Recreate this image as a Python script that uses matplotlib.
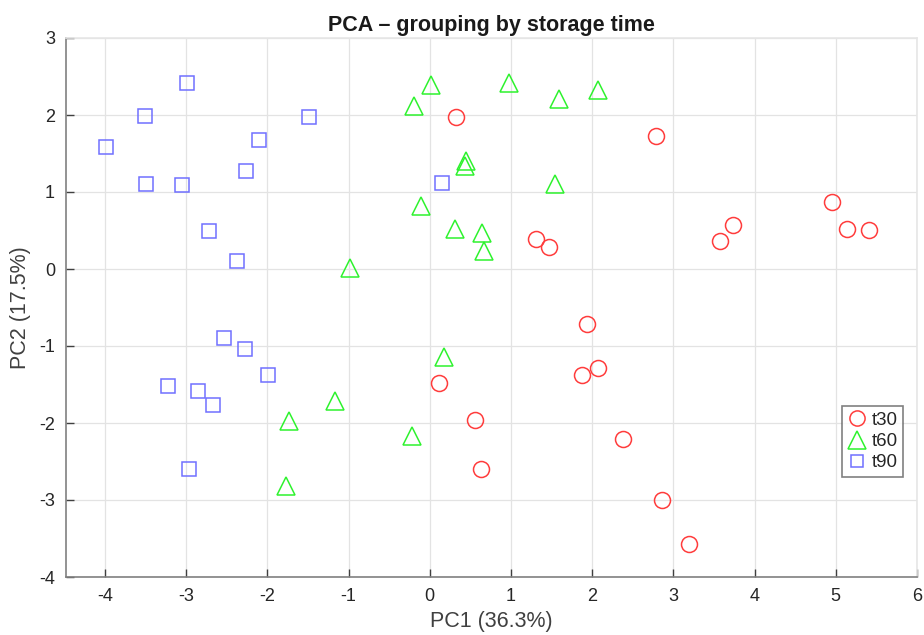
import matplotlib
matplotlib.use("Agg")
import matplotlib.pyplot as plt

plt.rcParams['font.family'] = ['Liberation Sans', 'DejaVu Sans']
plt.rcParams['axes.unicode_minus'] = False

# Data
t30_x = [0.32, 2.78, 4.95, 5.14, 5.41, 3.74, 3.58, 1.31, 1.47, 1.93, 1.88, 2.07,
         0.11, 0.56, 0.63, 2.38, 2.86, 3.19]
t30_y = [1.97, 1.73, 0.87, 0.52, 0.51, 0.57, 0.37, 0.39, 0.29, -0.71, -1.38, -1.29,
         -1.48, -1.96, -2.60, -2.21, -3.00, -3.57]

t60_x = [0.01, -0.20, 0.98, 1.59, 2.07, 0.44, 0.43, 1.54, -0.11, 0.31, 0.64, 0.67,
         -0.98, 0.17, -1.17, -1.73, -0.22, -1.77]
t60_y = [2.39, 2.12, 2.41, 2.21, 2.32, 1.40, 1.34, 1.10, 0.82, 0.52, 0.47, 0.23,
         0.01, -1.14, -1.71, -1.97, -2.17, -2.82]

t90_x = [-2.99, -3.51, -1.49, -3.99, -2.10, -3.49, -3.05, -2.26, -2.72, -2.38, 0.15,
         -2.54, -2.27, -1.99, -3.22, -2.85, -2.67, -2.96]
t90_y = [2.42, 1.99, 1.97, 1.59, 1.68, 1.10, 1.09, 1.27, 0.49, 0.10, 1.12,
         -0.90, -1.04, -1.38, -1.52, -1.58, -1.77, -2.60]

groups = ['t30', 't60', 't90']
title = 'PCA – grouping by storage time'
xlabel = 'PC1 (36.3%)'
ylabel = 'PC2 (17.5%)'
xticks = [-4, -3, -2, -1, 0, 1, 2, 3, 4, 5, 6]
yticks = [-4, -3, -2, -1, 0, 1, 2, 3]

fig = plt.figure(figsize=(9.24, 6.35), dpi=100)
ax = fig.add_axes([66/924, 1 - 577/635, (917-66)/924, (577-38)/635])

c_red = '#ff3c3c'
c_green = '#2ef22e'
c_blue = '#7070ff'

ax.plot(t30_x, t30_y, linestyle='none', marker='o', markersize=11.5, mfc='none',
        mec=c_red, mew=1.1, label=groups[0])
ax.plot(t60_x, t60_y, linestyle='none', marker='^', markersize=13, mfc='none',
        mec=c_green, mew=1.1, label=groups[1])
ax.plot(t90_x, t90_y, linestyle='none', marker='s', markersize=9.5, mfc='none',
        mec=c_blue, mew=1.1, label=groups[2])

ax.set_xlim(-4.48, 6.0)
ax.set_ylim(-4, 3)
ax.set_xticks(xticks)
ax.set_yticks(yticks)
ax.grid(True, color='#e3e3e3', linewidth=0.9)
ax.set_axisbelow(True)

for s in ['left', 'bottom']:
    ax.spines[s].set_color('#808080')
    ax.spines[s].set_linewidth(1.2)
for s in ['top', 'right']:
    ax.spines[s].set_color('#e6e6e6')
    ax.spines[s].set_linewidth(1.2)

ax.tick_params(direction='in', length=6, width=1.0, color='#404040',
               labelsize=13, labelcolor='#262626', pad=8)

ax.set_title(title, fontsize=15.5, fontweight='bold', color='#1a1a1a', pad=5)
ax.set_xlabel(xlabel, fontsize=15.5, color='#404040', labelpad=4)
ax.set_ylabel(ylabel, fontsize=15.5, color='#404040', labelpad=6)

leg = ax.legend(loc='lower right', bbox_to_anchor=(903/924, 1 - 477/635),
                bbox_transform=fig.transFigure, fontsize=13.5, frameon=True,
                fancybox=False, edgecolor='#606060', handlelength=1.0,
                handletextpad=0.25, borderpad=0.3, labelspacing=0.22,
                markerscale=0.95, borderaxespad=0)
leg.get_frame().set_linewidth(1.2)
for t in leg.get_texts():
    t.set_color('#262626')

fig.savefig('out.png', dpi=100, facecolor='white')
